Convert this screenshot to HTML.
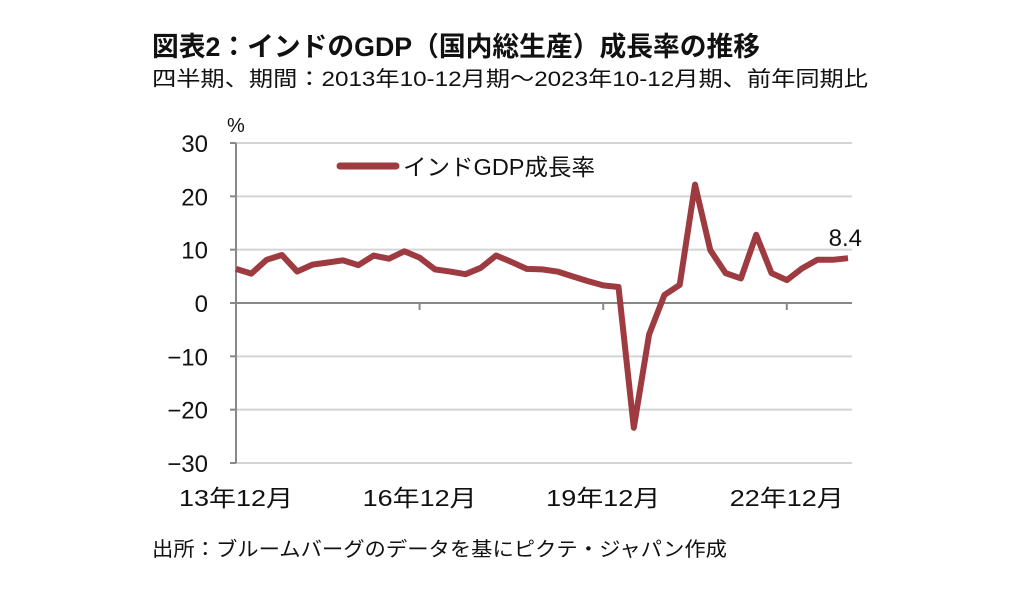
<!DOCTYPE html>
<html><head><meta charset="utf-8"><style>
body{margin:0;background:#fff;width:1012px;height:598px;overflow:hidden;font-family:"Liberation Sans","Noto Sans CJK JP",sans-serif;}
svg{position:absolute;left:0;top:0}
text{font-family:"Liberation Sans","Noto Sans CJK JP",sans-serif;fill:#111}
</style></head><body>
<svg width="1012" height="598">
<text x="152" y="56" font-size="27" font-weight="bold" textLength="608" lengthAdjust="spacingAndGlyphs">図表2：インドのGDP（国内総生産）成長率の推移</text>
<text x="152" y="86" font-size="21" textLength="716" lengthAdjust="spacingAndGlyphs">四半期、期間：2013年10-12月期～2023年10-12月期、前年同期比</text>
<text x="227" y="132" font-size="20">%</text>
<g id="grid"></g><g id="yt"></g><g id="xt"></g>
<line x1="340" y1="166" x2="396" y2="166" stroke="#9e3b40" stroke-width="7" stroke-linecap="round"/>
<text x="403" y="175" font-size="23" textLength="192" lengthAdjust="spacingAndGlyphs">インドGDP成長率</text>
<path id="line" fill="none" stroke="#9e3b40" stroke-width="6" stroke-linejoin="round"/>
<text id="lastlbl" font-size="24" text-anchor="end"></text>
<text x="152" y="556" font-size="20" textLength="575" lengthAdjust="spacingAndGlyphs">出所：ブルームバーグのデータを基にピクテ・ジャパン作成</text>
</svg>
<script>
const values=[6.4,5.5,8.1,9.0,5.9,7.2,7.6,8.0,7.1,8.9,8.3,9.7,8.5,6.3,5.9,5.4,6.6,8.9,7.7,6.4,6.3,5.9,5.0,4.1,3.3,3.0,-23.4,-5.9,1.5,3.4,22.2,9.9,5.6,4.6,12.8,5.6,4.3,6.5,8.1,8.1,8.4];
const yTicks=[30,20,10,0,-10,-20,-30];
const xLabels=["13年12月","16年12月","19年12月","22年12月"];
const xLabelIdx=[0,12,24,36];
const lastLabel="8.4";
const NS="http://www.w3.org/2000/svg";
const X0=236,X1=852,dx=15.3;
const x=i=>X0+i*dx;
const y=v=>303-v*5.333;
function mk(t,a,p){const e=document.createElementNS(NS,t);for(const k in a)e.setAttribute(k,a[k]);p.appendChild(e);return e;}
const grid=document.getElementById('grid'),yt=document.getElementById('yt'),xt=document.getElementById('xt');
yTicks.forEach(v=>{
  if(v!==0){const l=mk('line',{x1:X0,x2:X1,y1:y(v),y2:y(v),stroke:'#d4d4d4','stroke-width':2},grid);
  
  }
  const tk=mk('line',{x1:X0-6,x2:X0,y1:y(v),y2:y(v),stroke:'#888','stroke-width':2},grid);
  
  
  const t=mk('text',{x:208,y:y(v)+9,'font-size':24,'text-anchor':'end'},yt);
  t.textContent=String(v).replace('-','−');
  
  
});
const ax=mk('line',{x1:X0,x2:X0,y1:y(30),y2:y(-30),stroke:'#888','stroke-width':2},grid);


const zx=mk('line',{x1:X0,x2:X1,y1:y(0),y2:y(0),stroke:'#888','stroke-width':2},grid);


xLabelIdx.forEach((idx,k)=>{
  const tk=mk('line',{x1:x(idx),x2:x(idx),y1:y(0),y2:y(0)+7,stroke:'#888','stroke-width':2},grid);
  
  
  const t=mk('text',{x:x(idx)-57,y:506,'font-size':23,textLength:114,lengthAdjust:'spacingAndGlyphs'},xt);
  t.textContent=xLabels[k];
  
  
});
document.getElementById('line').setAttribute('d',values.map((v,i)=>(i?'L':'M')+x(i)+','+y(v)).join(''));
const ll=document.getElementById('lastlbl');
ll.textContent=lastLabel;
ll.setAttribute('x',x(values.length-1)+14);
ll.setAttribute('y',y(values[values.length-1])-12);
</script>
</body></html>
